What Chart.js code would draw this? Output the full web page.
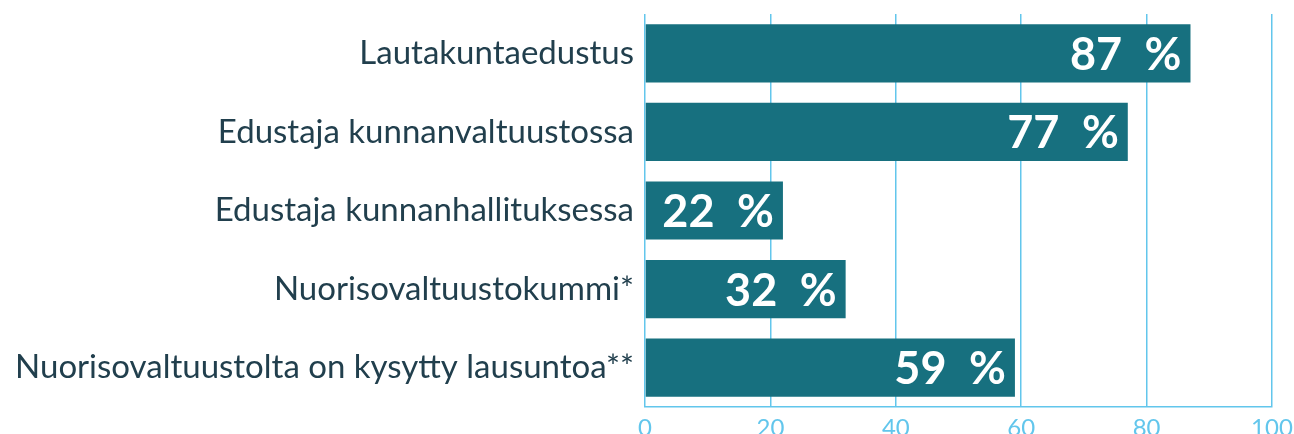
<!DOCTYPE html>
<html>
<head>
<meta charset="utf-8">
<script src="https://cdn.jsdelivr.net/npm/chart.js@4"></script>
<style>
html, body { margin: 0; padding: 0; background: #fff; overflow: hidden; }
</style>
</head>
<body>
<canvas id="kaavio" width="1294" height="460"></canvas>
<script>
// Vaikuttamiskanavat
const kategoriat = [
    'Lautakuntaedustus',
    'Edustaja kunnanvaltuustossa',
    'Edustaja kunnanhallituksessa',
    'Nuorisovaltuustokummi*',
    'Nuorisovaltuustolta on kysytty lausuntoa**'
];
const osuudet = [87, 77, 22, 32, 59]; // prosenttia
const asteikonMax = 100;
const asteikonVali = 20;

const palkinVari = '#17707f';
const viivanVari = '#62c6ec';
const tekstinVari = '#213f4d';

// piirtää prosenttiluvut palkkien sisälle
const arvoTekstit = {
    id: 'arvoTekstit',
    afterDatasetsDraw(chart) {
        const ctx = chart.ctx;
        const meta = chart.getDatasetMeta(0);
        ctx.save();
        ctx.fillStyle = '#ffffff';
        ctx.font = 'bold 45px Lato, sans-serif';
        ctx.textAlign = 'right';
        ctx.textBaseline = 'middle';
        meta.data.forEach(function(palkki, i) {
            ctx.fillText(osuudet[i] + '\u2002%', palkki.x - 9, palkki.y + 2);
        });
        ctx.restore();
    }
};

const ctx = document.getElementById('kaavio').getContext('2d');
new Chart(ctx, {
    type: 'bar',
    data: {
        labels: kategoriat,
        datasets: [{
            data: osuudet,
            backgroundColor: palkinVari,
            borderWidth: 0,
            categoryPercentage: 1,
            barPercentage: 0.74
        }]
    },
    options: {
        indexAxis: 'y',
        responsive: false,
        animation: false,
        layout: { padding: { top: 14, right: 22, left: 0, bottom: 0 } },
        plugins: {
            legend: { display: false },
            tooltip: { enabled: false }
        },
        scales: {
            x: {
                min: 0,
                max: asteikonMax,
                ticks: {
                    stepSize: asteikonVali,
                    color: viivanVari,
                    padding: 7,
                    font: { size: 24, family: 'Lato, sans-serif' }
                },
                grid: { color: viivanVari, lineWidth: 1.5, drawTicks: false },
                border: { color: viivanVari, width: 1.5 },
                afterFit(scale) {
                    scale.height = 53;
                    scale.paddingLeft = 0;
                    scale.paddingRight = 0;
                }
            },
            y: {
                ticks: {
                    color: tekstinVari,
                    padding: 11,
                    font: { size: 33, family: 'Lato, sans-serif' }
                },
                grid: { display: false, drawTicks: false },
                border: { display: false },
                afterFit(scale) {
                    scale.width = 645;
                    scale.paddingTop = 0;
                    scale.paddingBottom = 0;
                }
            }
        }
    },
    plugins: [arvoTekstit]
});
</script>
</body>
</html>
